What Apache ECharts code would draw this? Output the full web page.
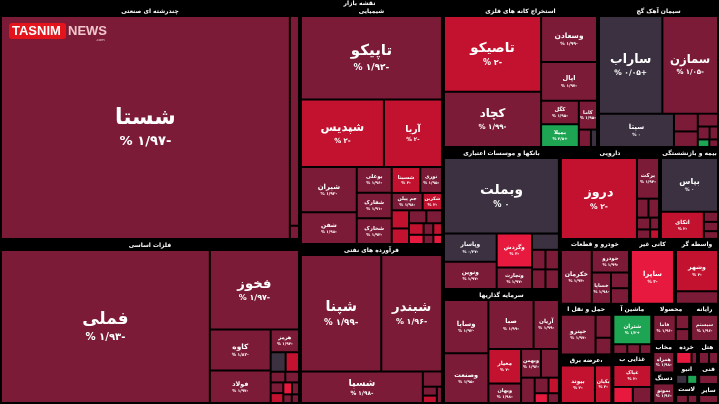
<!DOCTYPE html>
<html><head><meta charset="utf-8">
<script src="https://cdn.jsdelivr.net/npm/echarts@6/dist/echarts.min.js"></script>
<style>html,body{margin:0;padding:0;background:#000;}#c{width:719px;height:404px;}</style>
</head><body><div id="c"></div>
<script>
// Sectors (name + relative size)
const sectorNames = ['چندرشته ای صنعتی','فلزات اساسی','شیمیایی','فرآورده های نفتی','استخراج کانه های فلزی','سیمان آهک گچ','بانکها و موسسات اعتباری','سرمایه گذاریها','دارویی','بیمه و بازنشستگی','خودرو و قطعات','کانی غیر فلزی','واسطه گریهای مالی','حمل و نقل انبارداری','عرضه برق،گاز،بخار و آب','ماشین آلات و تجهیزات','غذایی بجز قند','محصولات فلزی','رایانه','مخابرات','دستگاههای برقی','خرده فروشی','هتل و رستوران','انبوه سازی','لاستیک و پلاستیک','فنی مهندسی','سایر'];
const sectorSizes = [70200,49200,34177,22737,22010,17182,16614,13338,9200,5428,4550,2925,2860,2650,2550,2000,1960,1406,1073,720,700,520,480,460,440,420,396];

// Stocks per sector: names, sizes, change %
const leafNames = [
 ['شستا','',''],
 ['فملی','فخوز','کاوه','فولاد','هرمز','','فلورد','','','','','','','',''],
 ['تاپیکو','شپدیس','آریا','شیران','شفن','شخارک','شفارک','بوعلی','شسینا','نوری','جم پیلن','شکربن','زاگرس','شیلی','','','','','','','',''],
 ['شپنا','شبندر','شسپا','','','',''],
 ['تاصیکو','کچاد','وسعادن','اپال','کگل','بمیلا','کاما','',''],
 ['ساراب','سمازن','سیتا','','','','','','',''],
 ['وبملت','وپاسار','ونوین','وگردش','وتجارت','','','','',''],
 ['وسایا','صبا','وصنعت','آریان','معیار','وبهان','وبهمن','','','','','',''],
 ['دروز','برکت','','','','','',''],
 ['بپاس','اتکای','','',''],
 ['خکرمان','خودرو','خساپا','',''],
 ['ساپرا'],
 ['وشهر',''],
 ['حپترو','',''],
 ['بیوند','بکیان'],
 ['شتران','','',''],
 ['غپاک','',''],
 ['فاما','',''],
 ['سیستم'],
 ['همراه'],
 ['بموتو'],
 ['',''],
 ['',''],
 ['',''],
 ['',''],
 [''],
 ['']
];
const leafSizes = [
 [64000,1900,120],
 [30700,6800,2400,1900,620,280,250,150,140,130,120,100,80,70,60],
 [10500,5000,3500,2250,1580,800,800,800,660,500,480,300,280,240,200,180,150,120,100,90,80,70],
 [9000,6800,3700,280,120,100,80],
 [7000,5100,2450,2050,850,810,500,200,100],
 [5700,5000,2300,390,340,240,140,100,80,60],
 [7600,1300,1250,1050,660,380,230,230,230,230],
 [2200,2050,2050,1150,1050,590,530,480,320,200,150,120,100],
 [5900,860,210,190,150,120,100,80],
 [2800,1060,130,120,100],
 [1600,810,580,270,270],
 [2300],
 [1650,500],
 [1250,330,240],
 [1100,530],
 [910,110,100,90],
 [560,210,200],
 [370,120,100],
 [380],
 [440],
 [480],
 [170,60],
 [90,80],
 [100,90],
 [100,80],
 [90],
 [80]
];
const leafChanges = [
 [-1.97,-1.95,-1.9],
 [-1.93,-1.97,-1.82,-1.97,-1.92,0,-2,-1.95,-1.94,-1.96,-2,-3,-1.9,-1.9,-1.9],
 [-1.92,-2,-2,-1.92,-1.98,-1.93,-1.91,-1.96,-2,-1.95,-1.98,-2,-2,-2,-1.95,-1.9,-2,-3,-1.9,-2,-1.9,-3],
 [-1.99,-1.96,-1.98,-1.95,-1.9,-2,-1.9],
 [-2,-1.99,-1.99,-1.97,-1.95,2.5,-1.95,-1.9,0],
 [0.05,-1.05,0,-1.95,-1.9,-1.95,-1.9,-1.9,2,-1.9],
 [0,-0.27,-1.97,-3,-1.97,0,-1.95,-1.94,-1.96,-1.9],
 [-1.92,-1.99,-1.95,-1.99,-2,-1.98,-1.96,-1.95,-1.9,-1.95,-2,-3,-1.9],
 [-2,-1.94,-1.95,-1.9,-1.95,-1.9,-1.9,-2],
 [0,-2,-1.95,-1.9,-1.95],
 [-1.94,-1.99,-1.98,-1.95,-1.9],
 [-3],
 [-2,-1.95],
 [-1.97,-1.95,-1.9],
 [-2,-2],
 [1.2,-1.9,-1.95,-1.9],
 [-2,-3,-1.95],
 [-1.96,-1.9,-1.95],
 [-1.96],
 [-1.98],
 [-1.96],
 [-3,-1.9],
 [-1.9,-1.95],
 [0,1.5],
 [-1.95,-1.9],
 [-1.9],
 [-1.95]
];

const FA = '۰۱۲۳۴۵۶۷۸۹';
function fa(s){ return s.replace(/\d/g, d => FA[+d]).replace('.', '/'); }
function pctText(c){
  const sign = c < 0 ? '-' : (c > 0 ? '+' : '');
  return '% ' + fa(String(Math.abs(c))) + sign;
}
function colorFor(c){
  if (c >= 0.5) return '#1ea553';
  if (c > -0.5) return '#3b3140';
  if (c > -2) return '#7c1b37';
  if (c > -2.5) return '#c3122f';
  return '#e8193e';
}
const FONT_STEPS = [[17,4.5],[30,5.5],[45,6.5],[55,8.5],[75,12.5],[100,15],[180,17],[255,22]];
function fontFor(v){
  const s = Math.sqrt(v);
  if (s <= FONT_STEPS[0][0]) return FONT_STEPS[0][1];
  for (let i = 1; i < FONT_STEPS.length; i++){
    const [x1,y1] = FONT_STEPS[i], [x0,y0] = FONT_STEPS[i-1];
    if (s <= x1) return y0 + (y1-y0)*(s-x0)/(x1-x0);
  }
  return FONT_STEPS[FONT_STEPS.length-1][1];
}
const FAM = '"DejaVu Sans", sans-serif';

const leafIndex = {};
const data = sectorNames.map((sn, i) => ({
  name: sn,
  value: sectorSizes[i],
  children: leafNames[i].map((n, j) => {
    const v = leafSizes[i][j], c = leafChanges[i][j];
    const show = n !== '' && Math.sqrt(v) >= 17;
    const f = fontFor(v), g = Math.max(4, f * 0.6);
    const item = {
      name: n, value: v, pct: pctText(c), key: i + '-' + j, textH: f * 1.3 + g * 1.4,
      itemStyle: { color: colorFor(c) },
      label: show ? { show: true, padding: [0, 0, 0, 0], rich: {
        n: { fontSize: f, fontWeight: 'bold', color: '#fff', fontFamily: FAM, lineHeight: f * 1.3, align: 'center' },
        p: { fontSize: g, fontWeight: 'bold', color: '#fff', fontFamily: FAM, lineHeight: g * 1.4, align: 'center' }
      } } : { show: false }
    };
    leafIndex[item.key] = item;
    return item;
  })
}));

const option = {
  backgroundColor: '#000',
  animation: false,
  title: { text: 'نقشه بازار', left: 'center', top: 0, padding: 0,
    textStyle: { color: '#fff', fontSize: 6, fontWeight: 'bold', fontFamily: FAM } },
  graphic: [
    { type: 'rect', left: 9, top: 23, shape: { width: 57, height: 16, r: 3 }, style: { fill: '#e3141c' }, z: 100 },
    { type: 'text', left: 12, top: 24.5, style: { text: 'TASNIM', fill: '#fff', font: 'bold 13px "Liberation Sans", Arial, sans-serif' }, z: 101 },
    { type: 'text', left: 68, top: 24.5, style: { text: 'NEWS', fill: '#f2c4cc', font: 'bold 13px "Liberation Sans", Arial, sans-serif' }, z: 101 },
    { type: 'text', left: 96, top: 38, style: { text: '.com', fill: '#e8c8cf', font: '4px "Liberation Sans", sans-serif' }, z: 101 }
  ],
  series: [{
    type: 'treemap',
    left: 0, top: 6, right: 0, bottom: 0,
    roam: false, nodeClick: false,
    breadcrumb: { show: false },
    squareRatio: 1,
    visibleMin: 0,
    sort: 'desc',
    label: {
      show: true, position: 'inside', align: 'center', verticalAlign: 'middle',
      color: '#fff', overflow: 'truncate', ellipsis: '',
      formatter: p => '{n|' + p.name + '}\n{p|' + p.data.pct + '}'
    },
    upperLabel: { show: false },
    levels: [
      { itemStyle: { borderWidth: 0, gapWidth: 0, borderColor: '#000' } },
      { itemStyle: { borderWidth: 1, gapWidth: 0, borderColor: '#000', color: '#000' },
        upperLabel: { show: true, height: 10, color: '#fff', fontSize: 6, fontWeight: 'bold', fontFamily: FAM,
          formatter: '{b}', position: 'inside', align: 'center', verticalAlign: 'middle',
          overflow: 'truncate', ellipsis: '' } },
      { itemStyle: { borderWidth: 1, gapWidth: 0, borderColor: '#000' } }
    ],
    data: data
  }]
};

const chart = echarts.init(document.getElementById('c'), null, { renderer: 'canvas' });
chart.setOption(option);

// Center labels vertically using the layout computed by the library
try {
  const tree = chart.getModel().getSeriesByIndex(0).getData().tree;
  tree.root.eachNode(node => {
    if (node.children && node.children.length) return;
    const key = node.getModel().get('key');
    const item = leafIndex[key];
    const lay = node.getLayout();
    if (!item || !lay || !item.label.show) return;
    const h = lay.height - 2;
    item.label.padding = [Math.max(0, (h - item.textH) / 2), 0, 0, 0];
  });
  chart.setOption({ series: [{ data: data }] });
} catch (e) { console.error(e); }
</script>
</body></html>
